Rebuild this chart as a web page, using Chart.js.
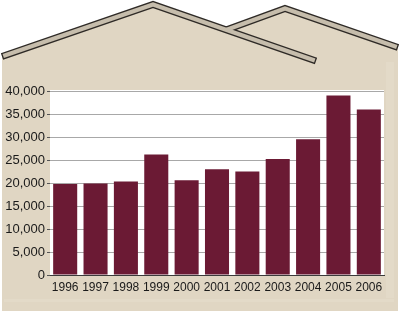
<!DOCTYPE html>
<html>
<head>
<meta charset="utf-8">
<script src="https://cdn.jsdelivr.net/npm/chart.js@4"></script>
<style>
html,body{margin:0;padding:0;background:#fff;}
#wrap{width:400px;height:311px;position:relative;}
</style>
</head>
<body>
<div id="wrap"><canvas id="c" width="400" height="311"></canvas></div>
<script>
const years = ['1996','1997','1998','1999','2000','2001','2002','2003','2004','2005','2006'];
const values = [19800, 19900, 20300, 26200, 20600, 23000, 22500, 25200, 29500, 39000, 36000];
const yTicks = [0, 5000, 10000, 15000, 20000, 25000, 30000, 35000, 40000];

const BEIGE = '#e0d6c3';
const ROOF = '#c6bdac';
const OUTLINE = '#2e2a26';
const BAR = '#6b1a34';

function shorten(pts, d) {
  const p = pts.map(q => q.slice());
  const n = p.length;
  let dx = p[1][0] - p[0][0], dy = p[1][1] - p[0][1], L = Math.hypot(dx, dy);
  p[0][0] += dx / L * d; p[0][1] += dy / L * d;
  dx = p[n - 2][0] - p[n - 1][0]; dy = p[n - 2][1] - p[n - 1][1]; L = Math.hypot(dx, dy);
  p[n - 1][0] += dx / L * d; p[n - 1][1] += dy / L * d;
  return p;
}

const housePlugin = {
  id: 'house',
  beforeDraw(chart) {
    const ctx = chart.ctx;
    ctx.save();
    ctx.fillStyle = '#ffffff';
    ctx.fillRect(0, 0, 400, 311);
    ctx.fillStyle = BEIGE;
    ctx.beginPath();
    ctx.moveTo(2, 56);
    ctx.lineTo(153, 4.5);
    ctx.lineTo(228, 30);
    ctx.lineTo(285, 8.5);
    ctx.lineTo(398, 48);
    ctx.lineTo(398, 311);
    ctx.lineTo(2, 311);
    ctx.closePath();
    ctx.fill();
    ctx.fillStyle = '#e3dac8';
    ctx.fillRect(386, 62, 8, 236);
    ctx.fillRect(4, 299, 390, 3);
    const roof1 = [[2, 56.5], [153, 4.5], [316, 61]];
    const roof2 = [[226, 30], [285, 8.5], [398, 47.5]];
    function path(pts) {
      ctx.beginPath();
      ctx.moveTo(pts[0][0], pts[0][1]);
      for (let i = 1; i < pts.length; i++) ctx.lineTo(pts[i][0], pts[i][1]);
    }
    ctx.lineJoin = 'miter';
    ctx.lineCap = 'butt';
    ctx.strokeStyle = OUTLINE;
    ctx.lineWidth = 7;
    path(roof1); ctx.stroke();
    path(roof2); ctx.stroke();
    ctx.strokeStyle = ROOF;
    ctx.lineWidth = 4.2;
    path(shorten(roof1, 1.3)); ctx.stroke();
    const r2 = shorten(roof2, 1.3); r2[0] = roof2[0];
    path(r2); ctx.stroke();
    const a = chart.chartArea;
    ctx.fillStyle = '#ffffff';
    ctx.fillRect(a.left, a.top - 1, a.right - a.left, a.bottom - a.top + 1);
    ctx.restore();
  }
};

const FONT = "'Liberation Sans Narrow', 'Liberation Sans', sans-serif";

new Chart(document.getElementById('c'), {
  type: 'bar',
  data: {
    labels: years,
    datasets: [{
      data: values,
      backgroundColor: BAR,
      borderWidth: 0,
      barPercentage: 0.88,
      categoryPercentage: 0.9
    }]
  },
  options: {
    responsive: false,
    animation: false,
    devicePixelRatio: 1,
    layout: { padding: { left: 0, right: 16, top: 91, bottom: 0 } },
    plugins: { legend: { display: false }, tooltip: { enabled: false } },
    scales: {
      x: {
        grid: { display: false, drawTicks: false },
        border: { display: true, color: '#3a3a3a', width: 1 },
        ticks: { color: '#1a1a1a', font: { family: FONT, size: 12 }, padding: 5, maxRotation: 0, autoSkip: false },
        afterFit(s) { s.height = 36; }
      },
      y: {
        min: 0,
        max: 40000,
        afterBuildTicks(s) { s.ticks = yTicks.map(v => ({ value: v })); },
        grid: { color: '#a8a8a8', lineWidth: 1, drawTicks: true, tickLength: 3, tickColor: '#555' },
        border: { display: false },
        ticks: {
          color: '#1a1a1a',
          font: { family: FONT, size: 13 },
          padding: 2,
          callback: v => Number(v).toLocaleString('en-US')
        },
        afterFit(s) { s.width = 50; }
      }
    }
  },
  plugins: [housePlugin]
});
</script>
</body>
</html>
